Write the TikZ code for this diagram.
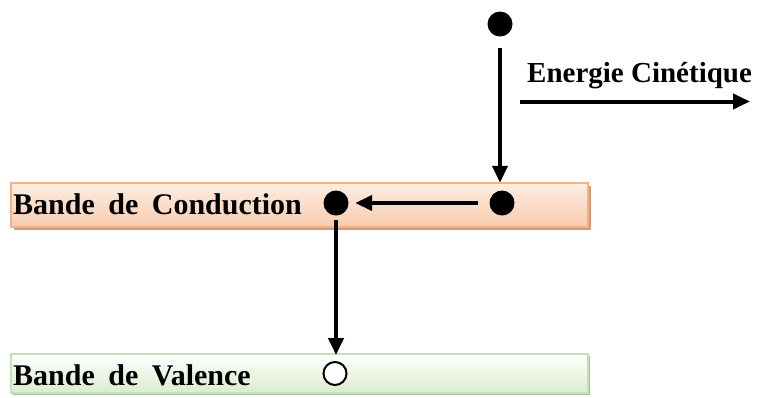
\documentclass[tikz,border=0pt]{standalone}
\usepackage{fontspec}
\setmainfont{Liberation Serif}
\usetikzlibrary{arrows.meta,shadows}
\definecolor{cbBorder}{RGB}{244,177,131}
\definecolor{cbTop}{RGB}{253,238,228}
\definecolor{cbBot}{RGB}{248,203,173}
\definecolor{cbShadow}{RGB}{200,160,128}
\definecolor{vbBorder}{RGB}{197,224,180}
\definecolor{vbTop}{RGB}{255,255,255}
\definecolor{vbBot}{RGB}{218,236,205}
\definecolor{vbShadow}{RGB}{175,185,160}
\newcommand\widespaces{\spaceskip=0.45em plus 0.1em\relax}
\tikzset{
  band/.style={rectangle, minimum width=577pt, inner sep=0pt, line width=1.5pt},
  lbl/.style={font=\bfseries\fontsize{29}{32}\selectfont, inner sep=0pt, anchor=west},
  bandlbl/.style={inner sep=0pt, anchor=west, font=\bfseries\fontsize{30}{33}\selectfont},
  dot/.style={circle, fill=black, minimum size=25pt, inner sep=0pt},
  hole/.style={circle, draw=black, fill=white, line width=2pt, minimum size=23pt, inner sep=0pt},
  arr/.style={line width=4pt, -{Triangle[length=17pt,width=15pt]}}
}
\begin{document}
\begin{tikzpicture}[x=1pt,y=-1pt]
\useasboundingbox (0,0) rectangle (770,397);
\node[band, minimum height=44pt, draw=cbBorder, top color=cbTop, bottom color=cbBot,
  drop shadow={shadow xshift=3pt, shadow yshift=-3pt, fill=cbShadow, opacity=1}] (cband) at (299.5,205) {};
\node[band, minimum height=39pt, draw=vbBorder, top color=vbTop, bottom color=vbBot,
  drop shadow={shadow xshift=2pt, shadow yshift=-2pt, fill=vbShadow, opacity=1}] (vband) at (299.5,373.5) {};
\node[bandlbl] (ctext) at (13,204) {\widespaces Bande de Conduction};
\node[bandlbl] (vtext) at (13,375) {\widespaces Bande de Valence};
\node[lbl] (etext) at (527,76) {Energie Cinétique};
\node[dot] (e0) at (500,24) {};
\node[dot] (e1) at (502,203) {};
\node[dot] (e2) at (336,203) {};
\node[hole] (h) at (335,373.5) {};
\coordinate (ks) at (520,101.5);
\coordinate (ke) at (750,101.5);
\draw[arr, shorten <=11pt, shorten >=7.5pt] (e0) -- (e0 |- e1.north);
\draw[arr, shorten <=11pt, shorten >=6.5pt] (e1) -- (e2);
\draw[arr, shorten <=4pt, shorten >=6pt] (e2.south) -- (e2.south |- h.north);
\draw[arr] (ks) -- (ke);
\end{tikzpicture}
\end{document}
